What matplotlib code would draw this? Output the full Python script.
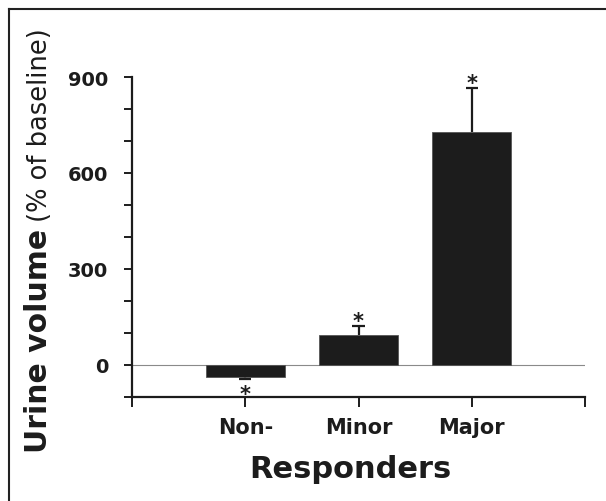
import matplotlib
matplotlib.use("Agg")
import matplotlib.pyplot as plt
from matplotlib.lines import Line2D
from matplotlib.ticker import MultipleLocator

# values
groups = ["Non-", "Minor", "Major"]
means = [-38, 94, 728]
sem = [7, 29, 138]
y_major = [0, 300, 600, 900]

W, H = 606, 502
fig = plt.figure(figsize=(W / 100, H / 100), dpi=100)
ax = fig.add_axes([132 / W, (H - 398) / H, (585 - 132) / W, (398 - 78) / H])

xs = list(range(1, len(groups) + 1))
ax.bar(xs, means, width=0.7, color="#1c1c1c", edgecolor="#555555", linewidth=0.6, zorder=3)

# one-sided error bars (pointing away from zero), with asterisks beyond them
ends = [m + e if m >= 0 else m - e for m, e in zip(means, sem)]
ax.vlines(xs, means, ends, color="#1c1c1c", lw=1.6, zorder=2)
ax.hlines(ends, [x - 0.055 for x in xs], [x + 0.055 for x in xs],
          color="#1c1c1c", lw=1.6, zorder=2)
for x, m, end in zip(xs, means, ends):
    dy = -1 if m >= 0 else -14.5
    ax.annotate("*", (x, end), xytext=(0, dy), textcoords="offset points",
                ha="center", va="baseline", fontsize=15, fontweight="bold",
                color="#1c1c1c")

ax.axhline(0, color="#8a8a8a", lw=0.8, zorder=1)

ax.set_xlim(0, len(groups) + 1)
ax.set_ylim(-100, 900)
ax.set_yticks(y_major)
ax.yaxis.set_minor_locator(MultipleLocator(100))
ax.set_xticks(range(0, len(groups) + 2))
ax.set_xticklabels([""] + groups + [""])

for side in ["top", "right"]:
    ax.spines[side].set_visible(False)
for side in ["left", "bottom"]:
    ax.spines[side].set_linewidth(1.6)
    ax.spines[side].set_color("#1c1c1c")

ax.tick_params(axis="y", which="both", direction="out", length=6, width=1.4,
               color="#1c1c1c", pad=11)
ax.tick_params(axis="y", labelsize=14)
ax.tick_params(axis="x", direction="out", length=7.5, width=1.4,
               color="#1c1c1c", pad=7, labelsize=15)
for lab in ax.get_yticklabels() + ax.get_xticklabels():
    lab.set_fontweight("bold")
    lab.set_color("#1c1c1c")

# x label
fig.text(350 / W, (H - 478) / H, "Responders", ha="center", va="baseline",
         fontsize=22, fontweight="bold", color="#1c1c1c")

# y label: bold part + regular part on one baseline
bx, by = 47 / W, (H - 453) / H
t1 = fig.text(bx, by, "Urine volume", rotation=90, rotation_mode="anchor",
              ha="left", va="baseline", fontsize=21.5, fontweight="bold",
              color="#1c1c1c")
fig.canvas.draw()
ext = t1.get_window_extent()
t2 = fig.text(bx, (ext.y1 + 7) / H, "(% of baseline)", rotation=90,
              rotation_mode="anchor", ha="left", va="baseline", fontsize=18.5,
              color="#1c1c1c")

# frame lines (top and left)
fig.add_artist(Line2D([9 / W, 1], [(H - 10) / H, (H - 10) / H], color="#222222", lw=1.5))
fig.add_artist(Line2D([9 / W, 9 / W], [0, (H - 10) / H], color="#222222", lw=1.5))

fig.savefig("out.png", dpi=100)
